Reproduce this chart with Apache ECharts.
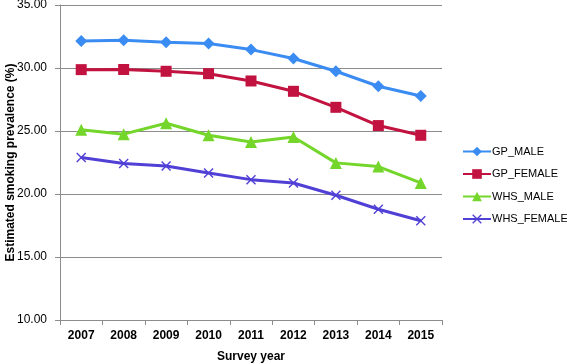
<!DOCTYPE html>
<html><head><meta charset="utf-8">
<script src="https://cdn.jsdelivr.net/npm/echarts@6/dist/echarts.min.js"></script>
<style>html,body{margin:0;padding:0;background:#fff}#c{width:567px;height:364px}</style>
</head><body><div id="c"></div>
<script>
var years = ['2007','2008','2009','2010','2011','2012','2013','2014','2015'];
var gpMale = [32.14, 32.2, 32.05, 31.94, 31.46, 30.75, 29.74, 28.55, 27.78];
var gpFemale = [29.87, 29.88, 29.74, 29.55, 28.97, 28.15, 26.88, 25.43, 24.66];
var whsMale = [25.1, 24.75, 25.62, 24.66, 24.13, 24.52, 22.47, 22.18, 20.88];
var whsFemale = [22.9, 22.42, 22.23, 21.67, 21.14, 20.87, 19.9, 18.79, 17.88];
var yTicks = {min: 10, max: 35, interval: 5};

var FONT = '"Liberation Sans", Arial, sans-serif';
var xPath = 'path://M0,1 L1,0 L5,4 L9,0 L10,1 L6,5 L10,9 L9,10 L5,6 L1,10 L0,9 L4,5 Z';

function mk(name, data, color, symbol, size) {
  return {
    name: name, type: 'line', data: data, symbol: symbol, symbolSize: size,
    showAllSymbol: true,
    lineStyle: {color: color, width: 3},
    itemStyle: {color: color, borderWidth: 0},
    emphasis: {disabled: true}, animation: false
  };
}
var chart = echarts.init(document.getElementById('c'), null, {renderer: 'canvas'});
chart.setOption({
  animation: false,
  grid: {left: 60, right: 125, top: 5, bottom: 44, containLabel: false, outerBoundsMode: 'none'},
  legend: {
    orient: 'vertical', left: 462, top: 146, padding: 0, itemGap: 11.5, itemWidth: 28, itemHeight: 12,
    textStyle: {fontFamily: FONT, fontSize: 11, color: '#000', padding: [0,0,0,-4]},
    data: ['GP_MALE','GP_FEMALE','WHS_MALE','WHS_FEMALE']
  },
  xAxis: {
    type: 'category', data: years, boundaryGap: true,
    name: 'Survey year', nameLocation: 'middle', nameGap: 31,
    nameTextStyle: {fontFamily: FONT, fontSize: 12, fontWeight: 'bold', color: '#000'},
    axisLine: {lineStyle: {color: '#8c8c8c', width: 1}},
    axisTick: {show: true, length: 5, lineStyle: {color: '#8c8c8c'}},
    axisLabel: {fontFamily: FONT, fontSize: 12, fontWeight: 'bold', color: '#000', margin: 10},
    splitLine: {show: false}
  },
  yAxis: {
    type: 'value', min: yTicks.min, max: yTicks.max, interval: yTicks.interval,
    name: 'Estimated smoking prevalence (%)', nameLocation: 'middle', nameGap: 43,
    nameMoveOverlap: false,
    nameTextStyle: {fontFamily: FONT, fontSize: 12, fontWeight: 'bold', color: '#000'},
    axisLine: {show: true, lineStyle: {color: '#8c8c8c', width: 1}},
    axisTick: {show: true, length: 5, lineStyle: {color: '#8c8c8c'}},
    axisLabel: {fontFamily: FONT, fontSize: 12, color: '#000', margin: 13,
      formatter: function(v){ return v.toFixed(2); }},
    splitLine: {show: true, lineStyle: {color: '#8c8c8c', width: 1}}
  },
  series: [
    mk('GP_MALE', gpMale, '#3b8cf2', 'diamond', 12),
    mk('GP_FEMALE', gpFemale, '#c2123f', 'rect', 11),
    mk('WHS_MALE', whsMale, '#74d62a', 'triangle', 12),
    mk('WHS_FEMALE', whsFemale, '#5140d6', xPath, 10)
  ]
});
</script></body></html>
